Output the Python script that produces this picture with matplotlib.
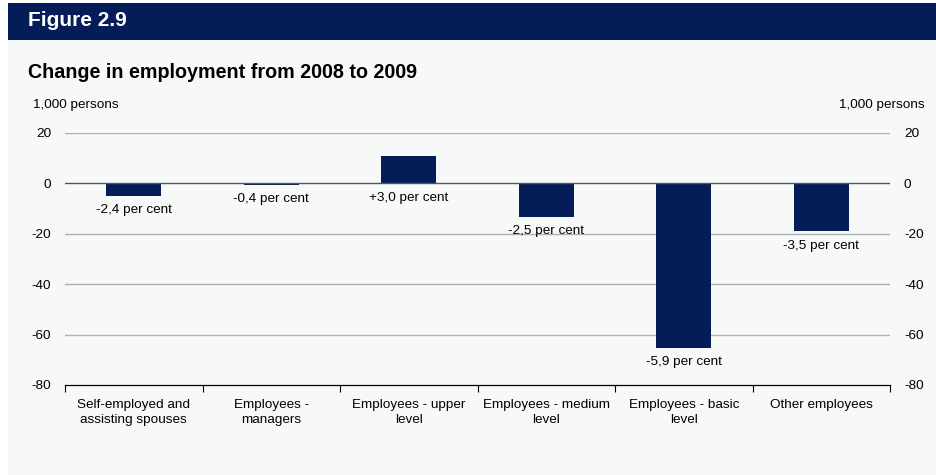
import matplotlib
matplotlib.use("Agg")
import matplotlib.pyplot as plt
from matplotlib.patches import Rectangle

plt.rcParams['font.family'] = ['Liberation Sans', 'DejaVu Sans']

categories = [
    "Self-employed and\nassisting spouses",
    "Employees -\nmanagers",
    "Employees - upper\nlevel",
    "Employees - medium\nlevel",
    "Employees - basic\nlevel",
    "Other employees",
]
change_thousands = [-5.0, -0.5, 11.0, -13.2, -65.3, -19.0]
pct_labels = ["-2,4 per cent", "-0,4 per cent", "+3,0 per cent",
              "-2,5 per cent", "-5,9 per cent", "-3,5 per cent"]
y_ticks = [20, 0, -20, -40, -60, -80]

NAVY = "#041c58"
PANEL = "#f7f8f8"
W, H = 937, 475
FS = 9.7

fig = plt.figure(figsize=(W / 100, H / 100), dpi=100)
fig.patch.set_facecolor("white")

# background panel and header band (behind the axes)
fig.patches.append(Rectangle((8 / W, 0), 1 - 8 / W, 1 - 3 / H,
                             transform=fig.transFigure, facecolor=PANEL,
                             edgecolor="none", zorder=-2))
fig.patches.append(Rectangle((8 / W, 1 - 40 / H), 1 - 8 / W, 37 / H,
                             transform=fig.transFigure, facecolor=NAVY,
                             edgecolor="none", zorder=-1))
fig.text(28 / W, 1 - 21 / H, "Figure 2.9", color="white", fontsize=15,
         fontweight="bold", va="center", ha="left")
fig.text(28 / W, 1 - 72 / H, "Change in employment from 2008 to 2009",
         color="black", fontsize=14.2, fontweight="bold", va="center", ha="left")
fig.text(33 / W, 1 - 105 / H, "1,000 persons", fontsize=FS, va="center", ha="left")
fig.text(925 / W, 1 - 105 / H, "1,000 persons", fontsize=FS, va="center", ha="right")

left, right, top, bottom = 65, 890, 133, 385
ax = fig.add_axes([left / W, 1 - bottom / H, (right - left) / W, (bottom - top) / H])
ax.set_facecolor("none")

x = list(range(len(categories)))
ax.bar(x, change_thousands, width=0.4, color=NAVY, zorder=3)

for xi, v, lab in zip(x, change_thousands, pct_labels):
    ax.annotate(lab, (xi, min(v, 0)), xytext=(0, -6), textcoords="offset points",
                ha="center", va="top", fontsize=FS, zorder=4)

ax.set_xlim(-0.5, len(categories) - 0.5)
ax.set_ylim(-80, 20)

for t in y_ticks:
    if t == -80:
        continue
    ax.axhline(t, color="#555555" if t == 0 else "#b0b0b0",
               lw=1.0, zorder=2 if t != 0 else 3.5)

for s in ["top", "left", "right"]:
    ax.spines[s].set_visible(False)
ax.spines["bottom"].set_color("black")
ax.spines["bottom"].set_linewidth(0.9)

ax.set_yticks(y_ticks)
ax.set_yticklabels([str(t) for t in y_ticks])
ax.tick_params(axis="y", length=0, labelsize=FS, pad=10, labelright=True)

ax.set_xticks([i - 0.5 for i in range(len(categories) + 1)])
ax.set_xticklabels([])
ax.set_xticks(x, minor=True)
ax.set_xticklabels(categories, minor=True, fontsize=FS, linespacing=1.35)
ax.tick_params(axis="x", which="major", length=5, width=0.8, direction="out")
ax.tick_params(axis="x", which="minor", length=0, pad=10)

fig.savefig("out.png", dpi=100, facecolor=fig.get_facecolor())
